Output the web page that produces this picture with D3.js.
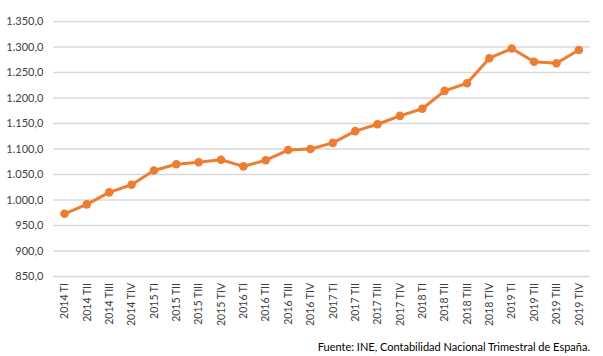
<!DOCTYPE html>
<html><head><meta charset="utf-8">
<script src="https://cdn.jsdelivr.net/npm/d3@7"></script>
<style>body{margin:0;background:#fff}svg{display:block}</style>
</head><body>
<svg id="c" width="603" height="356"></svg>
<script>
const categories = ["2014 TI","2014 TII","2014 TIII","2014 TIV","2015 TI","2015 TII","2015 TIII","2015 TIV","2016 TI","2016 TII","2016 TIII","2016 TIV","2017 TI","2017 TII","2017 TIII","2017 TIV","2018 TI","2018 TII","2018 TIII","2018 TIV","2019 TI","2019 TII","2019 TIII","2019 TIV"];
const values = [972,990.5,1014,1029,1057,1069,1073,1078,1065,1077,1097,1099,1111,1134,1147.5,1164,1178,1213,1228,1277,1296,1270,1267,1293];
const yTicks = [850,900,950,1000,1050,1100,1150,1200,1250,1300,1350];
const source = "Fuente: INE, Contabilidad Nacional Trimestral de España.";

const svg = d3.select("#c");
const font = "Lato, 'Open Sans', sans-serif";
const x = d3.scaleBand().domain(categories).range([53.3, 590]);
const y = d3.scaleLinear().domain([850,1350]).range([276, 21]);
const fmt = v => d3.format(",.1f")(v).replace(/,/g,"#").replace(".",",").replace(/#/g,".");

const gy = svg.append("g").attr("transform","translate(53.3,0)")
  .call(d3.axisLeft(y).tickValues(yTicks).tickSize(-(590-53.3)).tickPadding(10).tickFormat(fmt));
gy.select(".domain").remove();
gy.selectAll(".tick line").attr("stroke","#d9d9d9").attr("stroke-width",1.5);
gy.selectAll(".tick text").attr("fill","#404040").style("font-family",font).style("font-size","11px");

const gx = svg.append("g").attr("transform","translate(0,276)")
  .call(d3.axisBottom(x).tickSize(0).tickPadding(0));
gx.select(".domain").remove();
gx.selectAll(".tick text")
  .attr("fill","#404040").style("font-family",font).style("font-size","10.5px")
  .attr("transform","rotate(-90)").attr("text-anchor","end")
  .attr("x",-7).attr("y",0).attr("dy","0.35em");

const line = d3.line().x((d,i)=>x(categories[i])+x.bandwidth()/2).y(d=>y(d));
svg.append("path").datum(values).attr("d",line)
  .attr("fill","none").attr("stroke","#ED7D31").attr("stroke-width",3).attr("stroke-linejoin","round");
svg.selectAll("circle.pt").data(values).join("circle").attr("class","pt")
  .attr("cx",(d,i)=>x(categories[i])+x.bandwidth()/2).attr("cy",d=>y(d)).attr("r",4.3)
  .attr("fill","#ED7D31");

svg.append("text").attr("x",590).attr("y",351).attr("text-anchor","end")
  .attr("fill","#000").style("font-family",font).style("font-size","11px").text(source);
</script>
</body></html>
